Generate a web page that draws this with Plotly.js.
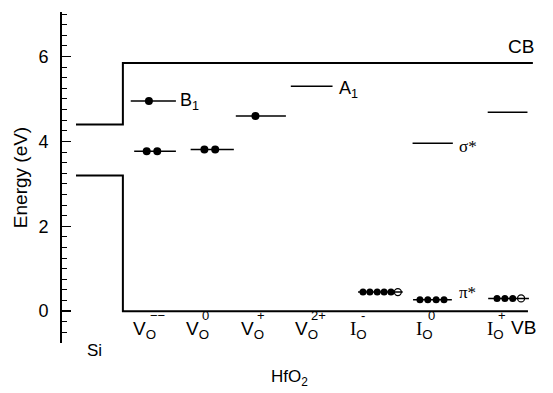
<!DOCTYPE html>
<html>
<head>
<meta charset="utf-8">
<script src="https://cdn.plot.ly/plotly-3.0.1.min.js"></script>
<style>html,body{margin:0;padding:0;background:#fff;}#chart{width:553px;height:393px;}</style>
</head>
<body>
<div id="chart"></div>
<script>
// ---- Band edges (eV) ----
const siCB = 4.4;
const siVB = 3.2;
const hfCB = 5.85;
const hfVB = 0.0;
// horizontal positions (schematic x units)
const siX = [0.285, 1.24];
const hfCBx = [1.24, 9.59];
const hfVBx = [1.24, 9.49];

// ---- Defect levels ----
const levelName  = ["B1", "VO- low", "VO0", "VO+", "A1", "IO- low", "sigma*", "IO0 low", "IO+ high", "IO+ low"];
const levelE     = [4.95, 3.77, 3.81, 4.60, 5.30, 0.45, 3.96, 0.27, 4.69, 0.30];
const levelX0    = [1.40, 1.47, 2.62, 3.54, 4.66, 6.03, 7.14, 7.15, 8.67, 8.68];
const levelX1    = [2.32, 2.32, 3.50, 4.56, 5.51, 6.94, 7.96, 7.94, 9.48, 9.51];
// electrons on levels (filled = occupied, open = half)
const filledX = [[1.77], [1.725, 1.94], [2.90, 3.12], [3.94], [], [6.13, 6.27, 6.42, 6.56, 6.70], [], [7.29, 7.45, 7.62, 7.78], [], [8.86, 9.02, 9.18]];
const openX   = [[], [], [], [], [], [6.84], [], [], [], [9.35]];

// ---- Column labels ----
const colX    = [1.69, 2.75, 3.87, 4.97, 6.03, 7.39, 8.82];
const colBase = ["V", "V", "V", "V", "I", "I", "I"];
const colSup  = ["\u2212\u2212", "0", "+", "2+", "-", "0", "+"];

const yTicks = [0, 2, 4, 6];
const yRange = [-0.75, 7.05];

const traces = [];
const black = '#000';
traces.push({x:[siX[0], siX[1], siX[1], hfCBx[1]], y:[siCB, siCB, hfCB, hfCB], mode:'lines', line:{color:black, width:2}, hoverinfo:'skip', showlegend:false});
traces.push({x:[siX[0], siX[1], siX[1], hfVBx[1]], y:[siVB, siVB, hfVB, hfVB], mode:'lines', line:{color:black, width:2}, hoverinfo:'skip', showlegend:false});
for (let i = 0; i < levelE.length; i++) {
  traces.push({x:[levelX0[i], levelX1[i]], y:[levelE[i], levelE[i]], mode:'lines', line:{color:black, width:1.5}, hoverinfo:'skip', showlegend:false});
  const big = i < 5;
  if (filledX[i].length) traces.push({x:filledX[i], y:filledX[i].map(()=>levelE[i]), mode:'markers', marker:{color:black, size: big ? 8 : 7, symbol:'circle'}, hoverinfo:'skip', showlegend:false});
  if (openX[i].length) traces.push({x:openX[i], y:openX[i].map(()=>levelE[i]), mode:'markers', marker:{color:black, size:7, symbol:'circle-open', line:{width:1.3, color:black}}, hoverinfo:'skip', showlegend:false});
}

const ann = [];
const sans = 'Liberation Sans, Arial, sans-serif';
const serif = 'Liberation Serif, Times New Roman, serif';
const xRange = [0, 10];
function px(x) { return (x - xRange[0]) / (xRange[1] - xRange[0]); }
function py(y) { return (y - yRange[0]) / (yRange[1] - yRange[0]); }
// all annotations in paper coordinates (so labels outside the axis range still draw)
function A(x, y, text, size, opts) {
  return Object.assign({x:px(x), y:py(y), xref:'paper', yref:'paper', xanchor:'center', yanchor:'middle', text:text, showarrow:false, font:{family:sans, size:size, color:black}}, opts||{});
}
ann.push(A(9.35, 6.23, 'CB', 19));
ann.push(A(9.39, -0.39, 'VB', 19));
ann.push(A(2.36, 4.93, 'B<sub>1</sub>', 18, {xanchor:'left'}));
ann.push(A(5.60, 5.22, 'A<sub>1</sub>', 18, {xanchor:'left'}));
ann.push(A(8.04, 3.88, '\u03c3*', 17, {xanchor:'left', font:{family:serif, size:17, color:black}}));
ann.push(A(8.04, 0.45, '\u03c0*', 17, {xanchor:'left', font:{family:serif, size:17, color:black}}));
ann.push(A(0.67, -0.93, 'Si', 17));
ann.push(A(4.64, -1.57, 'HfO<sub>2</sub>', 17));
for (let i = 0; i < colX.length; i++) {
  const isV = colBase[i] === 'V';
  const base = isV ? 'V<sub>O</sub>' : '<span style="font-family:' + serif + '">I</span><sub>O</sub>';
  ann.push(A(colX[i], -0.44, base, 19, {xanchor:'center'}));
  ann.push(A(colX[i] + (isV ? 0.07 : 0.02), -0.1, colSup[i], 13, {xanchor:'left'}));
}

const layout = {
  width:553, height:393,
  margin:{l:62, r:0, t:12, b:50},
  paper_bgcolor:'#fff', plot_bgcolor:'#fff',
  showlegend:false,
  xaxis:{range:xRange, visible:false, fixedrange:true},
  yaxis:{range:yRange, showgrid:false, zeroline:false, showline:true, linewidth:2, linecolor:black,
         tickvals:yTicks, ticktext:yTicks.map(String), ticks:'inside', ticklen:9, tickwidth:1.5, tickcolor:black,
         ticklabelstandoff:8,
         minor:{dtick:0.25, ticks:'inside', ticklen:5, tickwidth:1, tickcolor:black, showgrid:false},
         tickfont:{family:sans, size:18, color:black},
         title:{text:'Energy (eV)', font:{family:sans, size:19, color:black}, standoff:6}, automargin:false},
  annotations:ann
};
Plotly.newPlot('chart', traces, layout, {staticPlot:true, displayModeBar:false});
</script>
</body>
</html>
